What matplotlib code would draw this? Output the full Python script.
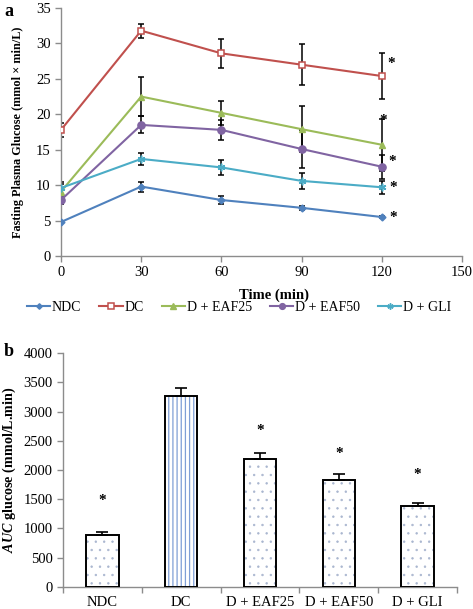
import matplotlib
matplotlib.use("Agg")
import matplotlib.pyplot as plt
import numpy as np

plt.rcParams['font.family'] = ['Liberation Serif', 'DejaVu Serif']
plt.rcParams['mathtext.fontset'] = 'custom'
plt.rcParams['mathtext.bfit'] = 'Liberation Serif:italic:bold'
plt.rcParams['mathtext.rm'] = 'Liberation Serif'
plt.rcParams['hatch.linewidth'] = 0.45

# ---------------- Data: panel a ----------------
time = [0, 30, 60, 90, 120]
groups = ['NDC', 'DC', 'D + EAF25', 'D + EAF50', 'D + GLI']
ndc = [4.8, 9.8, 7.9, 6.8, 5.5]
ndc_err = [0.2, 0.7, 0.5, 0.3, 0.2]
dc = [17.8, 31.8, 28.6, 27.0, 25.4]
dc_err = [1.0, 1.0, 2.0, 2.9, 3.2]
eaf25 = [9.1, 22.5, 20.2, 17.9, 15.7]
eaf25_err = [1.0, 2.7, 1.7, 3.2, 3.7]
eaf50 = [7.9, 18.5, 17.8, 15.1, 12.6]
eaf50_err = [0.6, 1.2, 1.4, 2.7, 1.7]
gli = [9.6, 13.7, 12.5, 10.6, 9.7]
gli_err = [0.9, 0.8, 1.0, 1.1, 0.9]
star_a_y = [5.5, 27.2, 19.2, 13.5, 9.7]
star_a_x = [124, 123.4, 120.4, 123.6, 124]

# ---------------- Data: panel b ----------------
auc = [880, 3260, 2190, 1830, 1390]
auc_err = [50, 140, 100, 95, 50]
star_b = [1520, None, 2725, 2330, 1955]

colors = ['#4F81BD', '#C0504D', '#9BBB59', '#8064A2', '#4BACC6']
markers = ['D', 's', '^', 'o', (6, 2, 0)]

fig = plt.figure(figsize=(4.73, 6.09), dpi=100)

# ---------------- Panel a ----------------
ax = fig.add_axes([61/473, 1-256/609, 401/473, 248/609])
series = [(ndc, ndc_err), (dc, dc_err), (eaf25, eaf25_err), (eaf50, eaf50_err), (gli, gli_err)]
for i, (vals, errs) in enumerate(series):
    ax.errorbar(time, vals, yerr=errs, fmt='none', ecolor='black', elinewidth=1.1,
                capsize=2.5, capthick=1.1, zorder=2)
msz = {0: 3.5, 1: 4.8, 2: 4.8, 3: 5.2, 4: 5.5}
for i, (vals, errs) in enumerate(series):
    mfc = 'white' if i == 1 else colors[i]
    ax.plot(time, vals, color=colors[i], lw=1.5, marker=markers[i], ms=msz[i],
            mfc=mfc, mec=colors[i], mew=1.1 if i in (1, 4) else 1, label=groups[i], zorder=3)
for x, y in zip(star_a_x, star_a_y):
    ax.text(x - 1.2, y - 0.1, '*', fontsize=11, fontweight='bold', ha='left', va='center')

ax.set_xlim(0, 150)
ax.set_ylim(0, 35)
ax.set_xticks([0, 30, 60, 90, 120, 150])
ax.set_yticks(range(0, 36, 5))
for s in ['top', 'right']:
    ax.spines[s].set_visible(False)
for s in ['left', 'bottom']:
    ax.spines[s].set_color('#8c8c8c')
    ax.spines[s].set_linewidth(1.0)
ax.tick_params(axis='both', colors='#8c8c8c', labelcolor='black', labelsize=10.5,
               length=4, width=1.0, direction='out')
ax.set_xlabel('Time (min)', fontsize=10.5, fontweight='bold')
ax.set_ylabel('Fasting Plasma Glucose (mmol × min/L)', fontsize=8.8, fontweight='bold')
ax.xaxis.set_label_coords(0.53, -0.13)
ax.yaxis.set_label_coords(-0.092, 0.5)

fig.legend(*ax.get_legend_handles_labels(), loc='center', ncol=5,
           bbox_to_anchor=(0.505, 1-307/609), frameon=False, fontsize=10,
           handlelength=1.7, columnspacing=1.3, handletextpad=0.1, markerscale=0.8)

fig.text(4/473, 1-11/609, 'a', fontsize=13, fontweight='bold', va='center')
fig.text(4/473, 1-352/609, 'b', fontsize=13, fontweight='bold', va='center')

# ---------------- Panel b ----------------
bx = fig.add_axes([63/473, 1-586.7/609, 394/473, 233.4/609])
xpos = np.arange(len(groups))
hatches = ['..', '||||', '..', '..', '..']
hcolors = ['#a9b6cf', '#7f9fd6', '#a9b6cf', '#a9b6cf', '#a9b6cf']
for i in range(len(groups)):
    with plt.rc_context({'hatch.linewidth': 0.5 if i != 1 else 0.9}):
        bx.bar(xpos[i], auc[i], width=0.41, color='white', edgecolor=hcolors[i],
               hatch=hatches[i], linewidth=0, zorder=2)
    bx.bar(xpos[i], auc[i], width=0.41, color='none', edgecolor='black', linewidth=1.4, zorder=3)
bx.errorbar(xpos, auc, yerr=[np.zeros(len(auc)), auc_err], fmt='none', ecolor='black',
            elinewidth=1.2, capsize=4, capthick=1.2, zorder=4)
for i, s in enumerate(star_b):
    if s is not None:
        bx.text(xpos[i], s - 40, '*', fontsize=11, fontweight='bold', ha='center', va='center')

bx.set_xlim(-0.5, 4.5)
bx.set_ylim(0, 4000)
bx.set_yticks(range(0, 4001, 500))
bx.set_xticks(xpos)
bx.set_xticklabels(groups)
bx.set_xticks(np.arange(-0.5, 5, 1), minor=True)
bx.tick_params(axis='x', which='major', length=0, labelsize=10.5, pad=7)
bx.tick_params(axis='x', which='minor', length=4, width=1.0, colors='#8c8c8c')
bx.tick_params(axis='y', colors='#8c8c8c', labelcolor='black', labelsize=10.5, length=4, width=1.0)
for s in ['top', 'right']:
    bx.spines[s].set_visible(False)
for s in ['left', 'bottom']:
    bx.spines[s].set_color('#8c8c8c')
    bx.spines[s].set_linewidth(1.0)
bx.set_ylabel(r'$\mathbfit{AUC}$ glucose (mmol/L.min)', fontsize=10.2, fontweight='bold')
bx.yaxis.set_label_coords(-0.115, 0.5)

fig.savefig('out.png', dpi=100)
